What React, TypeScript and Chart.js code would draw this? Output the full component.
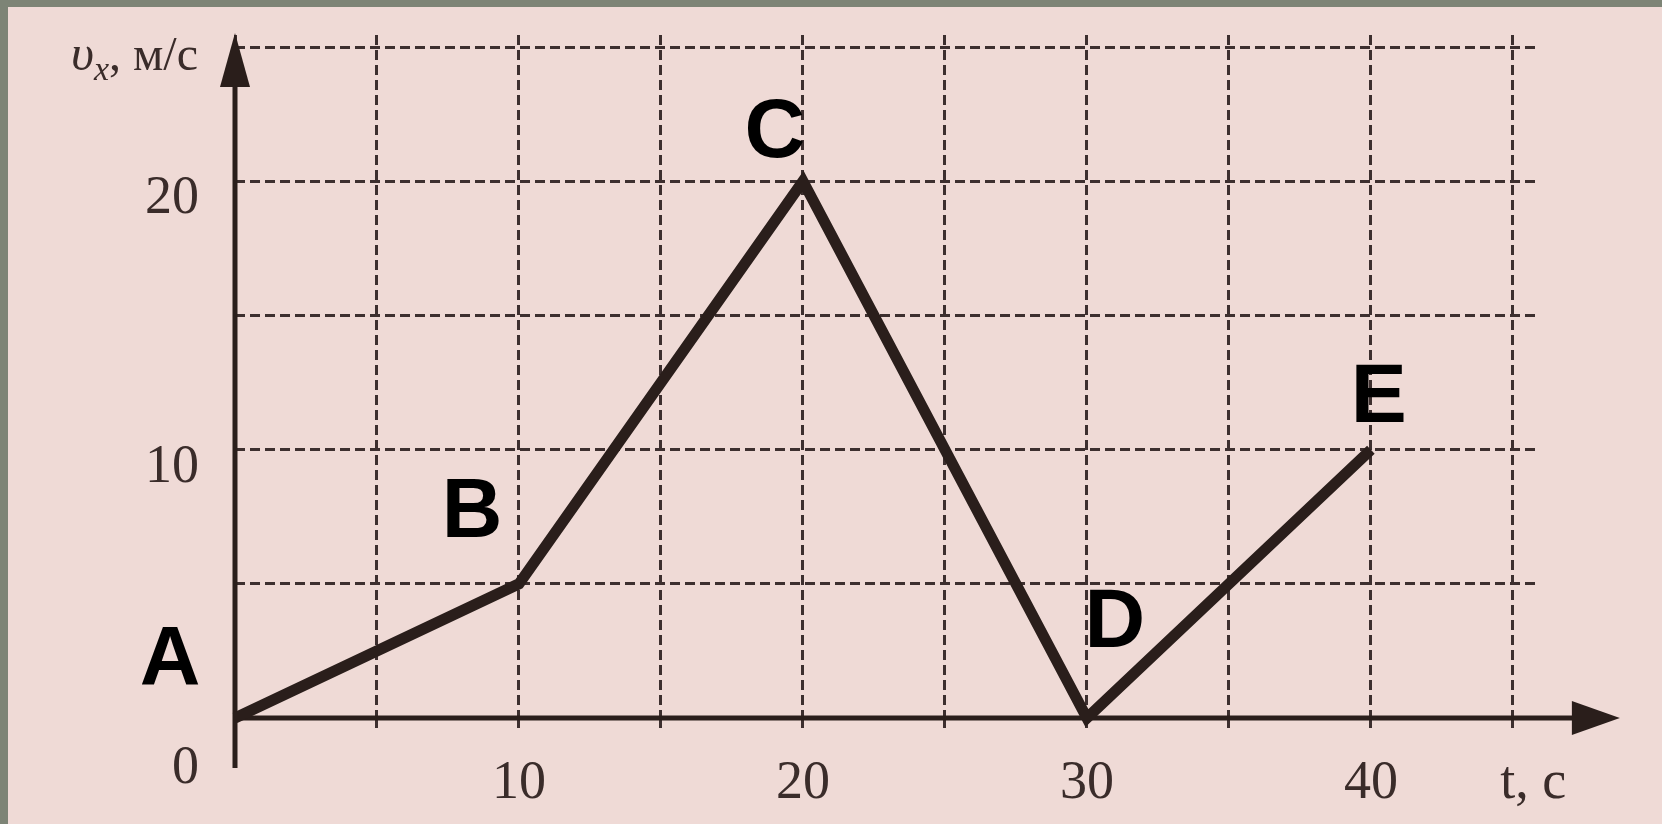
import React, { useEffect, useRef } from 'react';
import { Chart, registerables } from 'chart.js';

Chart.register(...registerables);

// ---- data ----
const times = [0, 10, 20, 30, 40];
const velocities = [0, 5, 20, 0, 10];
const pointNames = ['A', 'B', 'C', 'D', 'E'];
const xLabeledTicks = [10, 20, 30, 40];
const yLabeledTicks = [0, 10, 20];
const xAxisName = 't, с';
const yAxisSymbol = 'υ';
const yAxisSub = 'x';
const yAxisUnit = ', м/с';

// ---- styles ----
const pinkBg = '#efdad6';
const frameColor = '#7d8476';
const inkColor = '#2a1e1b';
const gridColor = '#3d2f2f';
const textColor = '#3a2c2a';
const pointLabelOffsets: [number, number][] = [
  [-65, -63],
  [-47, -77],
  [-28, -54],
  [28, -101],
  [8, -58],
];

const overlayPlugin = {
  id: 'overlay',
  beforeDatasetsDraw(chart: any) {
    const { ctx } = chart;
    const xs = chart.scales.x;
    const ys = chart.scales.y;
    const x0 = xs.getPixelForValue(0);
    const y0 = ys.getPixelForValue(0);
    const yTip = ys.getPixelForValue(25) - 14;
    const xTip = xs.getPixelForValue(45) + 107;
    ctx.save();
    ctx.strokeStyle = inkColor;
    ctx.fillStyle = inkColor;
    ctx.lineWidth = 5;
    ctx.lineCap = 'butt';
    // y axis
    ctx.beginPath();
    ctx.moveTo(x0, y0 + 50);
    ctx.lineTo(x0, yTip + 40);
    ctx.stroke();
    ctx.beginPath();
    ctx.moveTo(x0, yTip);
    ctx.lineTo(x0 - 15, yTip + 54);
    ctx.lineTo(x0 + 15, yTip + 54);
    ctx.closePath();
    ctx.fill();
    // x axis
    ctx.beginPath();
    ctx.moveTo(x0 - 2, y0);
    ctx.lineTo(xTip - 30, y0);
    ctx.stroke();
    ctx.beginPath();
    ctx.moveTo(xTip, y0);
    ctx.lineTo(xTip - 48, y0 - 17);
    ctx.lineTo(xTip - 48, y0 + 17);
    ctx.closePath();
    ctx.fill();

    // y axis title
    const right = x0 - 37;
    const base = ys.getPixelForValue(25) + 23;
    ctx.fillStyle = textColor;
    ctx.textBaseline = 'alphabetic';
    ctx.textAlign = 'left';
    ctx.font = '48px "Liberation Serif", serif';
    const wUnit = ctx.measureText(yAxisUnit).width;
    ctx.font = 'italic 34px "Liberation Serif", serif';
    const wSub = ctx.measureText(yAxisSub).width;
    ctx.font = 'italic 50px "Liberation Serif", serif';
    const wSym = ctx.measureText(yAxisSymbol).width;
    let x = right - wUnit - wSub - wSym;
    ctx.fillText(yAxisSymbol, x, base);
    x += wSym;
    ctx.font = 'italic 34px "Liberation Serif", serif';
    ctx.fillText(yAxisSub, x, base + 10);
    x += wSub;
    ctx.font = '48px "Liberation Serif", serif';
    ctx.fillText(yAxisUnit, x, base);
    ctx.restore();
  },
  afterDatasetsDraw(chart: any) {
    const { ctx } = chart;
    const meta = chart.getDatasetMeta(0);
    ctx.save();
    ctx.fillStyle = '#000000';
    ctx.font = 'bold 84px "Liberation Sans", Arial, sans-serif';
    ctx.textAlign = 'center';
    ctx.textBaseline = 'alphabetic';
    meta.data.forEach((pt: any, i: number) => {
      const [dx, dy] = pointLabelOffsets[i];
      ctx.fillText(pointNames[i], pt.x + dx, pt.y + dy + 30);
    });
    ctx.restore();
  },
};

export default function App() {
  const canvasRef = useRef<HTMLCanvasElement | null>(null);

  useEffect(() => {
    if (!canvasRef.current) return;
    const tickFont = { family: '"Liberation Serif", "Times New Roman", serif', size: 54, lineHeight: 1.2 };
    const chart = new Chart(canvasRef.current, {
      type: 'line',
      data: {
        datasets: [
          {
            data: times.map((t, i) => ({ x: t, y: velocities[i] })),
            borderColor: inkColor,
            borderWidth: 11,
            borderJoinStyle: 'miter',
            pointRadius: 0,
            pointHoverRadius: 0,
            fill: false,
            tension: 0,
            clip: false,
          } as any,
        ],
      },
      options: {
        animation: false,
        responsive: true,
        maintainAspectRatio: false,
        events: [],
        layout: { padding: { top: 28, right: 125, left: 0, bottom: 0 } },
        plugins: { legend: { display: false }, tooltip: { enabled: false } },
        scales: {
          x: {
            type: 'linear',
            min: 0,
            max: 45.85,
            afterFit: (s: any) => {
              s.height = 106;
              s.paddingLeft = 0;
              s.paddingRight = 0;
              s.paddingTop = 0;
              s.paddingBottom = 0;
            },
            border: { display: false, dash: [10, 5] },
            grid: {
              color: gridColor,
              lineWidth: 3,
              drawTicks: true,
              tickLength: 15,
              tickColor: gridColor,
              tickWidth: 3,
              tickBorderDash: [10, 5],
            },
            ticks: {
              stepSize: 5,
              includeBounds: false,
              autoSkip: false,
              maxRotation: 0,
              padding: 18,
              color: textColor,
              font: tickFont,
              callback: (v: any) =>
                v === 45 ? '\u00a0\u00a0\u00a0' + xAxisName : xLabeledTicks.includes(v) ? String(v) : '',
            },
          },
          y: {
            type: 'linear',
            min: 0,
            max: 25.45,
            afterFit: (s: any) => {
              s.width = 227;
              s.paddingLeft = 0;
              s.paddingRight = 0;
              s.paddingTop = 0;
              s.paddingBottom = 0;
            },
            border: { display: false, dash: [10, 5] },
            grid: {
              color: gridColor,
              lineWidth: 3,
              drawTicks: false,
            },
            ticks: {
              stepSize: 5,
              includeBounds: false,
              autoSkip: false,
              padding: 36,
              labelOffset: 18,
              color: textColor,
              font: tickFont,
              callback: (v: any) =>
                v === 0 ? ['', String(v)] : yLabeledTicks.includes(v) ? String(v) : '',
            },
          },
        },
      },
      plugins: [overlayPlugin],
    } as any);
    return () => chart.destroy();
  }, []);

  return (
    <div
      style={{
        position: 'fixed',
        left: 0,
        top: 0,
        width: 1662,
        height: 824,
        background: frameColor,
        overflow: 'hidden',
      }}
    >
      <div
        style={{
          position: 'absolute',
          left: 8,
          top: 7,
          right: 0,
          bottom: 0,
          background: pinkBg,
        }}
      >
        <canvas ref={canvasRef} />
      </div>
    </div>
  );
}
